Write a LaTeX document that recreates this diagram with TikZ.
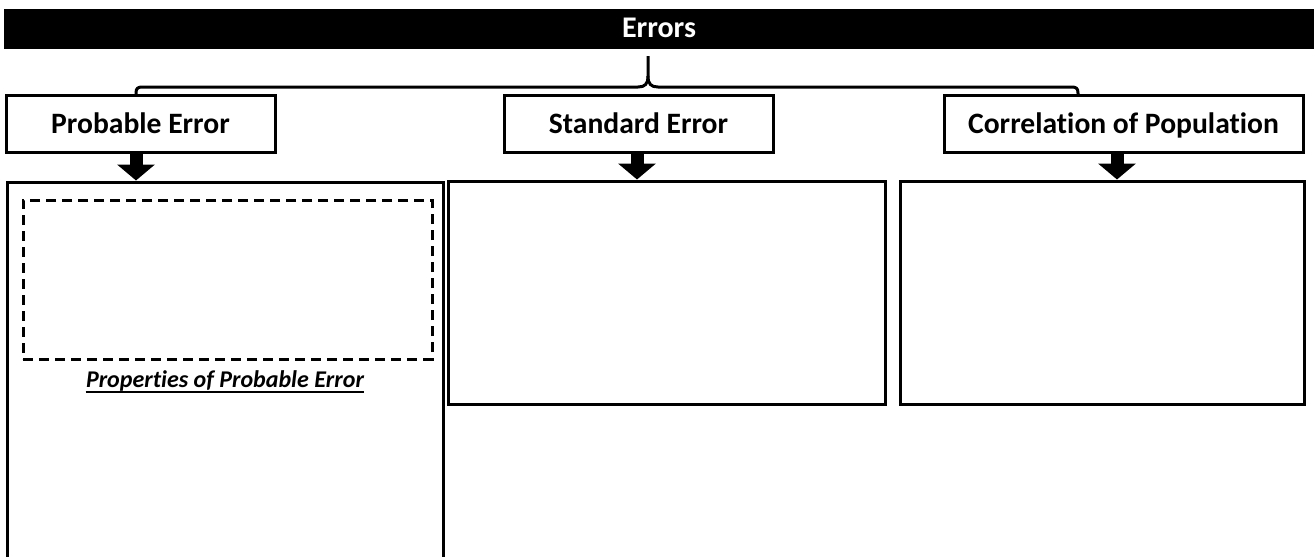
\documentclass[tikz,border=0pt]{standalone}
\usepackage{fontspec}
\setmainfont[Ligatures=NoCommon]{Carlito}
\usetikzlibrary{arrows.meta,calc}
\begin{document}
\begin{tikzpicture}[x=0.5pt,y=-0.5pt,
  hdr/.style={draw, line width=1.5pt, fill=white, inner sep=0pt, text height=1.0em, text depth=0.05em,
              minimum height=28.5pt, font=\fontsize{14.8}{17}\selectfont\bfseries},
  cbox/.style={draw, line width=1.5pt, inner sep=0pt},
  dbox/.style={draw, line width=1.5pt, inner sep=0pt, dash pattern=on 5pt off 3pt},
  blk/.style={-{Triangle[width=18.5pt,length=8pt]}, line width=6.5pt},
  brc/.style={line width=1.5pt},
 ]
\clip (0,0) rectangle (1314,557);
% title bar
\node[fill=black, text=white, minimum width=655pt, minimum height=20pt, inner sep=0pt,
      text height=0.88em, text depth=0.05em,
      font=\fontsize{15}{17}\selectfont\bfseries] (errors) at (659,29) {Errors};
% header boxes
\node[hdr, minimum width=134.5pt] (pe) at (140.5,124) {Probable Error};
\node[hdr, minimum width=134.5pt] (se) at (638.5,124) {Standard Error};
\node[hdr, minimum width=179.5pt] (cp) at (1123.5,124) {Correlation of Population};
% content boxes
\node[cbox, minimum width=218pt, minimum height=209pt] (peb) at (225,391) {};
\node[cbox, minimum width=218.5pt, minimum height=111.5pt] (seb) at (666.5,292.5) {};
\node[cbox, minimum width=202pt, minimum height=111.5pt] (cpb) at (1102,292.5) {};
\node[dbox, minimum width=204.5pt, minimum height=79.5pt] (ped) at (227.5,279.5) {};
\node[anchor=base, inner sep=0pt, font=\fontsize{12}{14}\selectfont\bfseries\itshape] (prop) at (225,387)
  {Properties of Probable Error};
\draw[line width=1.1pt] ([yshift=-2.5pt]prop.base west) -- ([yshift=-2.5pt]prop.base east);
% brace
\coordinate (bl) at (136,0);
\coordinate (bc) at (648,56);
\coordinate (br) at (1078,0);
\draw[brc] (pe.north -| bl) -- (136,93) .. controls (136,88) and (138,87) .. (143,87)
  -- (638,87) .. controls (645,87) and (648,84) .. (648,76) -- (bc);
\draw[brc] (648,76) .. controls (648,84) and (651,87) .. (658,87)
  -- (1071,87) .. controls (1076,87) and (1078,88) .. (1078,93) -- (cp.north -| br);
% arrows
\coordinate (a1) at (136,0);
\coordinate (a2) at (637,0);
\coordinate (a3) at (1117,0);
\draw[blk] (pe.south -| a1) -- (peb.north -| a1);
\draw[blk] (se.south -| a2) -- (seb.north -| a2);
\draw[blk] (cp.south -| a3) -- (cpb.north -| a3);
\end{tikzpicture}
\end{document}
